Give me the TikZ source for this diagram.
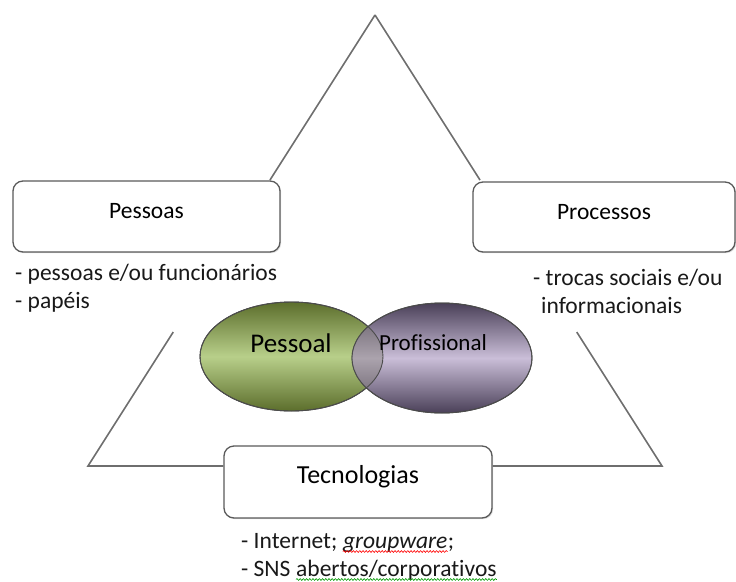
\documentclass[tikz,border=0pt]{standalone}
\usepackage{fontspec}
\setmainfont{Carlito}[Ligatures={NoCommon}]
\usetikzlibrary{calc,shapes.geometric,shadows,decorations.pathmorphing}
\definecolor{linegray}{HTML}{6E6E6E}
\definecolor{boxgray}{HTML}{5A5A5A}
\definecolor{gdark}{HTML}{5C6E2C}
\definecolor{glight}{HTML}{B8CF8A}
\definecolor{pdark}{HTML}{4A4058}
\definecolor{plight}{HTML}{CABED8}
\definecolor{odark}{HTML}{5E5662}
\definecolor{olight}{HTML}{ABA3AD}
\begin{document}
\begin{tikzpicture}[x=1pt,y=-1pt,
  tri/.style={draw=linegray,line width=1.6pt},
  box/.style={draw=boxgray,line width=1.3pt,fill=white,rounded corners=10pt,
    drop shadow={shadow xshift=1.2pt,shadow yshift=-1.2pt,opacity=0.25},
    font=\fontsize{23.5}{28}\selectfont,inner sep=0pt},
  txt/.style={inner sep=0pt,font=\fontsize{23.5}{28}\selectfont,text=black!90},
  ell/.style={ellipse,inner sep=0pt,draw=black!75,line width=0.9pt},
  ellborder/.style={draw=black!70,line width=0.9pt},
  wave/.style={line width=0.6pt,decorate,decoration={snake,amplitude=0.9pt,segment length=3.2pt}}]
\useasboundingbox (0,0) rectangle (736,581);
\fill[white] (0,0) rectangle (736,581);

% boxes
\node[box,minimum width=267pt,minimum height=71pt,text height=15pt,text depth=11pt] (pessoas) at (146.5,216.5) {Pessoas};
\node[box,minimum width=262pt,minimum height=70pt,text height=15pt,text depth=11pt] (processos) at (604,217) {Processos};
\node[box,minimum width=268pt,minimum height=72pt,font=\fontsize{26}{31}\selectfont,text height=18pt,text depth=16pt] (tec) at (358,482) {Tecnologias};

% triangle
\coordinate (apex) at (375,15);
\coordinate (bl) at (88,466);
\coordinate (br) at (662,466);
\draw[tri] (apex) -- ($(apex)!0.366!(bl)$);
\draw[tri] (apex) -- ($(apex)!0.366!(br)$);
\draw[tri,line join=miter] ($(apex)!0.703!(bl)$) -- (bl) -- (bl -| tec.west);
\draw[tri,line join=miter] ($(apex)!0.703!(br)$) -- (br) -- (br -| tec.east);

% side texts
\node[txt,anchor=base west] (p1) at (15,280) {- pessoas e/ou funcionários};
\node[txt,anchor=base west] (p2) at (15,308) {- papéis};
\node[txt,anchor=base west] (r1) at (533,285) {- trocas sociais e/ou};
\node[txt,anchor=base west] (r2) at (541,313) {informacionais};

% bottom texts
\node[txt,anchor=base west] (t1a) at (241,548) {- Internet;};
\node[txt,anchor=base west] (gw) at ($(t1a.base east)+(5.3,0)$) {\textit{groupware}};
\node[txt,anchor=base west] (t1b) at (gw.base east) {;};
\draw[wave,red] ($(gw.base west)+(0,3.5)$) -- ($(gw.base east)+(0,3.5)$);
\node[txt,anchor=base west] (t2a) at (241,576) {- SNS};
\node[txt,anchor=base west] (ab) at ($(t2a.base east)+(5.3,0)$) {abertos/corporativos};
\draw[wave,green!60!black] ($(ab.base west)+(0,3.5)$) -- ($(ab.base east)+(0,3.5)$);

% ellipses
\node[ell,minimum width=183pt,minimum height=109pt,top color=gdark,bottom color=gdark,middle color=glight] (pessoal) at (291.5,356.5) {};
\node[ell,minimum width=180pt,minimum height=110pt,top color=pdark,bottom color=pdark,middle color=plight] (profissional) at (442,358) {};
\begin{scope}
  \clip (pessoal.center) ellipse [x radius=91.5pt,y radius=54.5pt];
  \shade[top color=odark,bottom color=odark,middle color=olight] (profissional.center) ellipse [x radius=90pt,y radius=55pt];
\end{scope}
\draw[ellborder] (pessoal.center) ellipse [x radius=91.5pt,y radius=54.5pt];
\draw[ellborder] (profissional.center) ellipse [x radius=90pt,y radius=55pt];
\node[inner sep=0pt,anchor=base,font=\fontsize{27}{32}\selectfont] (pessoaltxt) at (291,352) {Pessoal};
\node[inner sep=0pt,anchor=base,font=\fontsize{23}{28}\selectfont] (proftxt) at (433,350) {Profissional};
\end{tikzpicture}
\end{document}
